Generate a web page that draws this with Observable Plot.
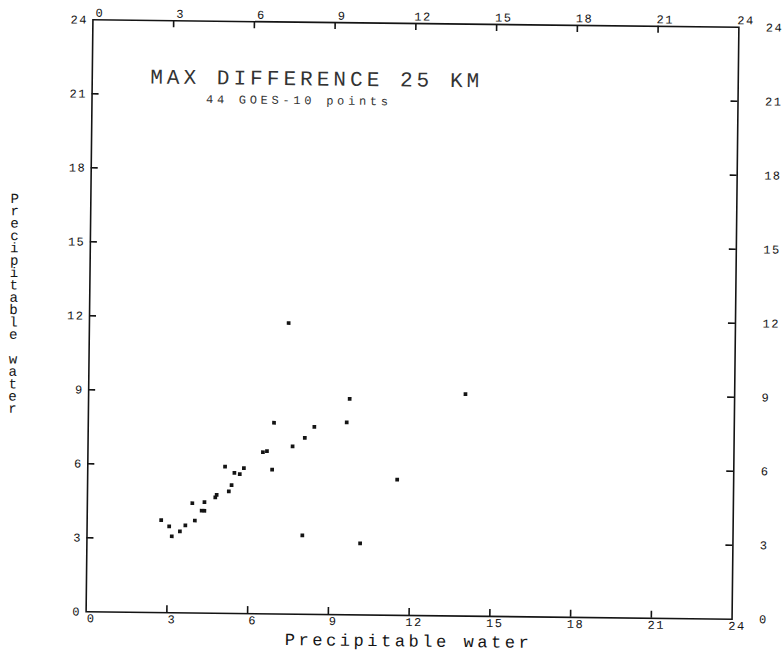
<!DOCTYPE html>
<html><head><meta charset="utf-8">
<script src="https://cdn.jsdelivr.net/npm/d3@7"></script>
<script src="https://cdn.jsdelivr.net/npm/@observablehq/plot@0.6"></script>
<style>
html,body{margin:0;padding:0;background:#fff;}
#chart svg{transform:rotate(0.66deg);transform-origin:412px 319px;}
</style></head><body><div id="chart"></div>
<script>
// GOES-10 precipitable water comparison (x vs y)
const xValues = [7.4, 9.7, 6.9, 8.4, 9.6, 8.05, 7.6, 6.5, 6.65, 6.85, 5.1, 5.45, 5.65, 5.8, 11.5, 5.35,
                 5.25, 4.8, 4.75, 3.9, 4.35, 4.25, 4.35, 4.0, 2.75, 3.05, 3.15, 3.45, 3.65, 8.0, 10.15, 14.0];
const yValues = [11.8, 8.75, 7.75, 7.6, 7.8, 7.15, 6.8, 6.55, 6.6, 5.85, 5.95, 5.7, 5.65, 5.9, 5.5, 5.2,
                 4.95, 4.8, 4.7, 4.45, 4.5, 4.15, 4.15, 3.75, 3.75, 3.5, 3.1, 3.3, 3.55, 3.2, 2.9, 9.0];
const tickValues = [0, 3, 6, 9, 12, 15, 18, 21, 24];
const titleText = "MAX DIFFERENCE 25 KM";
const subtitleText = "44 GOES-10 points";
const xLabel = "Precipitable water";
const yLabel = "Precipitable water";

const points = xValues.map((x, i) => ({x, y: yValues[i]}));
const innerTicks = tickValues.slice(1, -1);
const W = 784, H = 655, mL = 89, mR = 49, mT = 23, mB = 40;
const frameW = W - mL - mR, frameH = H - mT - mB;
const ink = "#141414";
const font = "'Liberation Mono', 'DejaVu Sans Mono', monospace";

const chart = Plot.plot({
  width: W, height: H,
  marginLeft: mL, marginRight: mR, marginTop: mT, marginBottom: mB,
  x: {domain: [0, 24]},
  y: {domain: [0, 24]},
  style: {fontFamily: font, background: "#fff", color: ink},
  marks: [
    Plot.frame({stroke: ink, strokeWidth: 1.6}),
    Plot.tickX(innerTicks, {x: d => d, insetTop: frameH - 7, stroke: ink, strokeWidth: 1.6}),
    Plot.tickX(innerTicks, {x: d => d, insetBottom: frameH - 7, stroke: ink, strokeWidth: 1.6}),
    Plot.tickY(innerTicks, {y: d => d, insetRight: frameW - 7, stroke: ink, strokeWidth: 1.6}),
    Plot.tickY(innerTicks, {y: d => d, insetLeft: frameW - 7, stroke: ink, strokeWidth: 1.6}),
    Plot.axisX({ticks: tickValues, anchor: "bottom", tickSize: 0, tickPadding: 2, dx: 5, fontSize: 12, label: null}),
    Plot.axisX({ticks: tickValues, anchor: "top", tickSize: 0, tickPadding: 3, dx: 7, fontSize: 12, label: null}),
    Plot.axisY({ticks: tickValues, anchor: "left", tickSize: 0, tickPadding: 5, fontSize: 12, label: null}),
    Plot.axisY({ticks: tickValues, anchor: "right", tickSize: 0, tickPadding: 27, fontSize: 12, label: null}),
    Plot.dot(points, {x: "x", y: "y", symbol: "square", r: 2.1, fill: ink, stroke: "none"}),
    Plot.text([titleText], {text: d => d, frameAnchor: "top-left", textAnchor: "start", lineAnchor: "bottom",
      dx: 58, dy: 63, fontSize: 21, fill: "#333"}),
    Plot.text([subtitleText], {text: d => d, frameAnchor: "top-left", textAnchor: "start", lineAnchor: "bottom",
      dx: 114, dy: 82, fontSize: 12, fill: "#333"}),
    Plot.text([xLabel], {text: d => d, frameAnchor: "bottom", textAnchor: "middle", lineAnchor: "bottom",
      dx: -2, dy: 31, fontSize: 17, fill: ink}),
    Plot.text([yLabel], {text: d => d, frameAnchor: "left", textAnchor: "middle", lineAnchor: "bottom",
      dx: -76, dy: -11, fontSize: 14, fill: ink})
  ]
});

// spacing of the plotter-style lettering
let labelCount = 0;
d3.select(chart).selectAll("text").each(function() {
  const el = d3.select(this);
  const t = this.textContent;
  if (t === titleText) el.attr("textLength", 329).attr("lengthAdjust", "spacing");
  else if (t === subtitleText) el.attr("textLength", 182).attr("lengthAdjust", "spacing");
  else if (t === xLabel) {
    if (labelCount++ === 0) el.attr("textLength", 244).attr("lengthAdjust", "spacing");
    else el.style("writing-mode", "vertical-rl").style("text-orientation", "upright")
           .attr("textLength", 226).attr("lengthAdjust", "spacing");
  }
  else if (/^\d+$/.test(t)) el.style("letter-spacing", "1.5px");
});
document.getElementById("chart").appendChild(chart);
</script></body></html>
